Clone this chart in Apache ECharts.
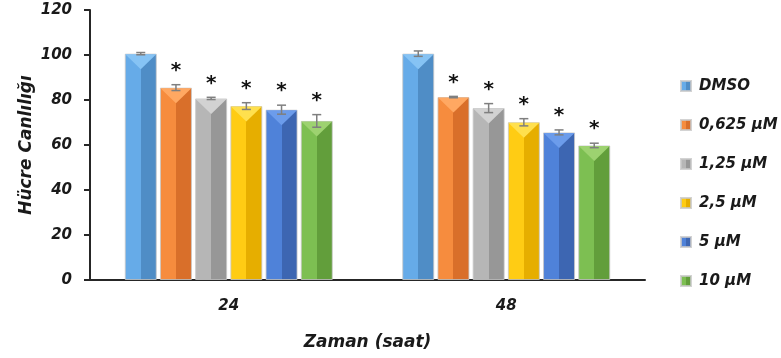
<!DOCTYPE html>
<html>
<head>
<meta charset="utf-8">
<script src="https://cdn.jsdelivr.net/npm/echarts@6/dist/echarts.min.js"></script>
<style>
  html, body { margin: 0; padding: 0; background: #fff; }
  #chart { width: 781px; height: 358px; }
</style>
</head>
<body>
<div id="chart"></div>
<script>
// Viability (%) at 24 h and 48 h for each treatment
const timePoints = ['24', '48'];
const seriesNames = ['DMSO', '0,625 µM', '1,25 µM', '2,5 µM', '5 µM', '10 µM'];
const dmso      = [100.6, 100.6];
const c0625     = [85.5, 81.3];
const c125      = [80.7, 76.4];
const c25       = [77.3, 70.1];
const c5        = [75.7, 65.6];
const c10       = [70.7, 59.8];
// standard deviation per bar
const dmsoErr   = [0.5, 1.2];
const c0625Err  = [1.3, 0.3];
const c125Err   = [0.5, 2.0];
const c25Err    = [1.5, 1.6];
const c5Err     = [2.0, 1.1];
const c10Err    = [2.8, 1.0];
// significance marks (true = asterisk)
const marked    = [false, true, true, true, true, true];
const yTicks    = { min: 0, max: 120, interval: 20 };

const values = [dmso, c0625, c125, c25, c5, c10];
const errors = [dmsoErr, c0625Err, c125Err, c25Err, c5Err, c10Err];

// shades: [face light (left), face dark (right), top facet]
const palette = [
  ['#66ABE8', '#4F8DC6', '#86C3F4'],
  ['#F68C3E', '#D96F2A', '#FFA862'],
  ['#B6B6B6', '#979797', '#D2D2D2'],
  ['#FFCC14', '#E6AE00', '#FFE04E'],
  ['#4F82D9', '#3D66B2', '#6C9CEB'],
  ['#7DBF52', '#629E3B', '#9DD270']
];

const FONT = 'DejaVu Sans';
const BAR_W = 32;
const GAP = 0.1;
const PITCH = BAR_W * (1 + GAP);

const series = [];
values.forEach((vals, i) => {
  series.push({
    name: seriesNames[i],
    type: 'bar',
    data: vals,
    barWidth: BAR_W,
    barGap: (GAP * 100) + '%',
    itemStyle: {
      color: {
        type: 'linear', x: 0, y: 0, x2: 1, y2: 0,
        colorStops: [
          { offset: 0, color: palette[i][0] },
          { offset: 0.5, color: palette[i][0] },
          { offset: 0.5, color: palette[i][1] },
          { offset: 1, color: palette[i][1] }
        ]
      },
      borderColor: 'rgba(200,200,200,0.8)',
      borderWidth: 1
    },
    emphasis: { disabled: true },
    z: 2
  });
});

// bevel facet, error bars and asterisks drawn on top of each bar
values.forEach((vals, i) => {
  series.push({
    name: 'deco' + i,
    type: 'custom',
    z: 5,
    silent: true,
    data: vals.map((v, k) => [k, v, errors[i][k]]),
    renderItem: (params, api) => {
      const cat = api.value(0);
      const v = api.value(1);
      const e = api.value(2);
      const base = api.coord([cat, v]);
      const cx = base[0] + (i - 2.5) * PITCH;
      const top = base[1];
      const errTop = api.coord([cat, v + e])[1];
      const errBot = api.coord([cat, v - e])[1];
      const half = BAR_W / 2 - 0.5;
      const cap = 4.5;
      const children = [
        {
          type: 'polygon',
          shape: { points: [[cx - half, top + 0.5], [cx + half, top + 0.5], [cx, top + half]] },
          style: { fill: palette[i][2] }
        },
        {
          type: 'polyline',
          shape: { points: [[cx, errTop], [cx, errBot]] },
          style: { stroke: '#7F7F7F', lineWidth: 1.5, fill: null }
        },
        {
          type: 'line',
          shape: { x1: cx - cap, y1: errTop, x2: cx + cap, y2: errTop },
          style: { stroke: '#7F7F7F', lineWidth: 1.5 }
        },
        {
          type: 'line',
          shape: { x1: cx - cap, y1: errBot, x2: cx + cap, y2: errBot },
          style: { stroke: '#7F7F7F', lineWidth: 1.5 }
        }
      ];
      if (marked[i]) {
        children.push({
          type: 'text',
          style: {
            text: '*', x: cx, y: errTop - 4,
            align: 'center', verticalAlign: 'bottom',
            font: 'bold 20px "' + FONT + '"', fill: '#111'
          }
        });
      }
      return { type: 'group', children: children };
    }
  });
});

const chart = echarts.init(document.getElementById('chart'), null, { renderer: 'canvas' });
chart.setOption({
  animation: false,
  backgroundColor: '#fff',
  textStyle: { fontFamily: FONT },
  grid: { left: 90, right: 136, top: 10, bottom: 78 },
  legend: {
    data: seriesNames,
    orient: 'vertical',
    left: 680,
    top: 77,
    padding: 0,
    itemWidth: 10,
    itemHeight: 10,
    itemGap: 21,
    icon: 'rect',
    selectedMode: false,
    textStyle: {
      fontFamily: FONT, fontSize: 15, fontWeight: 'bold', fontStyle: 'italic',
      color: '#1a1a1a', lineHeight: 18, padding: [0, 0, 0, 3]
    }
  },
  xAxis: {
    type: 'category',
    data: timePoints,
    name: 'Zaman (saat)',
    nameLocation: 'middle',
    nameGap: 54,
    nameTextStyle: { fontFamily: FONT, fontSize: 17, fontWeight: 'bold', fontStyle: 'italic', color: '#1a1a1a' },
    axisLine: { lineStyle: { color: '#262626', width: 2 } },
    axisTick: { show: false },
    axisLabel: { fontFamily: FONT, fontSize: 15, fontWeight: 'bold', fontStyle: 'italic', color: '#1a1a1a', margin: 19 }
  },
  yAxis: {
    type: 'value',
    min: yTicks.min,
    max: yTicks.max,
    interval: yTicks.interval,
    name: 'Hücre Canlılığı',
    nameLocation: 'middle',
    nameGap: 55,
    nameMoveOverlap: false,
    nameRotate: 90,
    nameTextStyle: { fontFamily: FONT, fontSize: 17, fontWeight: 'bold', fontStyle: 'italic', color: '#1a1a1a' },
    axisLine: { show: true, lineStyle: { color: '#262626', width: 2 } },
    axisTick: { show: true, length: 6, lineStyle: { color: '#262626', width: 2 } },
    splitLine: { show: false },
    axisLabel: { fontFamily: FONT, fontSize: 15, fontWeight: 'bold', fontStyle: 'italic', color: '#1a1a1a', margin: 18 }
  },
  series: series
});
</script>
</body>
</html>
